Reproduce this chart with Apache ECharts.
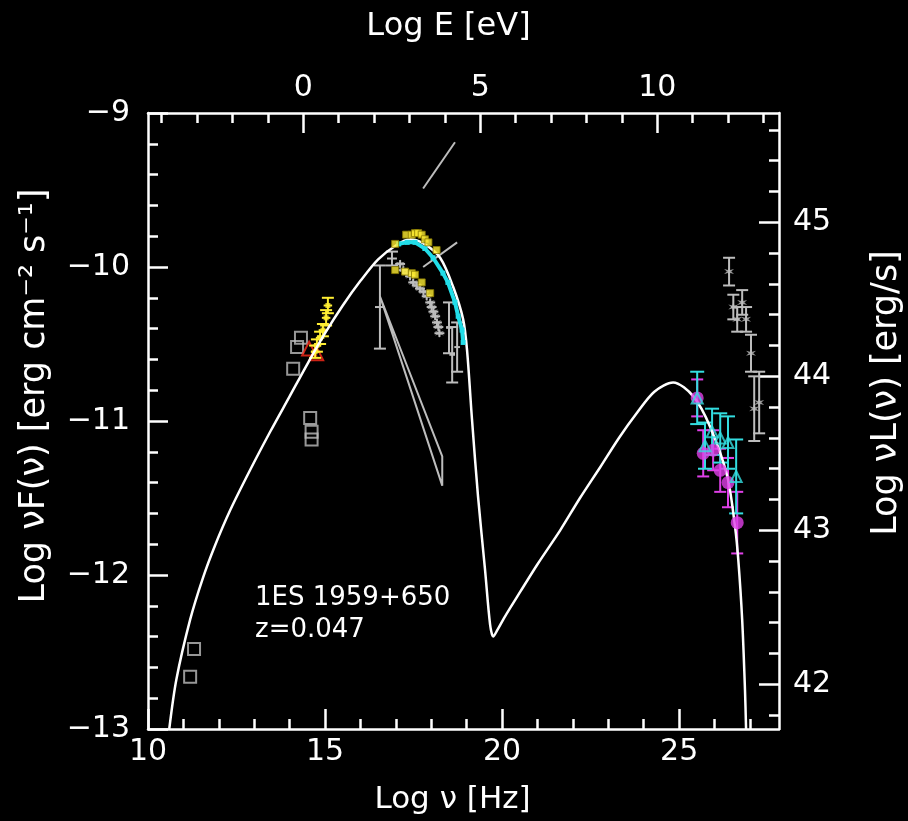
<!DOCTYPE html>
<html>
<head>
<meta charset="utf-8">
<script src="https://cdn.jsdelivr.net/npm/echarts@6/dist/echarts.min.js"></script>
<style>
  html, body { margin: 0; padding: 0; background: #000; }
  #chart { width: 908px; height: 821px; }
</style>
</head>
<body>
<div id="chart"></div>
<script>
// SSC model curve (log nu, log nuFnu)
const curveNu = [10.6, 10.8, 11.19, 11.55, 11.89, 12.32, 12.88, 13.45, 14.0, 14.5, 15.0, 15.5, 16.0, 16.5, 17.0, 17.4, 17.8, 18.25, 18.62, 18.90, 19.01, 19.15, 19.32, 19.52, 19.66, 19.75, 19.86, 20.08, 20.51, 21.0, 21.64, 22.2, 22.77, 23.3, 23.8, 24.3, 24.83, 25.40, 25.88, 26.36, 26.58, 26.67, 26.78, 26.86, 26.89]
const curveF = [-13.0, -12.68, -12.29, -12.02, -11.81, -11.58, -11.32, -11.07, -10.84, -10.63, -10.43, -10.25, -10.09, -9.95, -9.86, -9.82, -9.85, -9.94, -10.13, -10.34, -10.54, -10.99, -11.49, -11.97, -12.32, -12.40, -12.36, -12.27, -12.11, -11.93, -11.71, -11.50, -11.30, -11.11, -10.95, -10.81, -10.75, -10.84, -11.04, -11.36, -11.69, -11.90, -12.29, -12.75, -13.0]

// radio / IR archival (open squares)
const radioNu = [11.19, 11.30, 14.32, 14.21, 14.10, 14.58, 14.62, 14.62]
const radioF = [-12.66, -12.48, -10.46, -10.52, -10.66, -10.98, -11.07, -11.12]

// red open triangles
const redNu = [14.55, 14.75]
const redF = [-10.53, -10.56]

// optical-UV (yellow)
const optNu = [15.08, 15.03, 14.94, 14.86, 14.77, 14.72]
const optF = [-10.25, -10.33, -10.41, -10.46, -10.51, -10.55]
const optErr = [0.05, 0.05, 0.04, 0.04, 0.04, 0.04]

// X-ray yellow squares
const xyNu = [16.98, 17.26, 17.45, 17.54, 17.73, 17.97, 16.98, 17.29, 17.45, 17.54, 17.63, 17.73, 17.82, 17.92, 18.15]
const xyF = [-10.02, -10.03, -10.04, -10.05, -10.10, -10.17, -9.85, -9.79, -9.79, -9.78, -9.78, -9.79, -9.82, -9.84, -9.89]

// X-ray cyan band
const xcNu = [17.08, 17.32, 17.54, 17.82, 18.05, 18.33, 18.47, 18.67, 18.76, 18.87, 18.90]
const xcF = [-9.85, -9.84, -9.84, -9.88, -9.94, -10.04, -10.10, -10.23, -10.32, -10.41, -10.49]

// X-ray gray band
const xgNu = [17.12, 17.21, 17.31, 17.40, 17.49, 17.59, 17.68, 17.78, 17.87, 17.97, 18.01, 18.06, 18.11, 18.16, 18.20, 18.23]
const xgF = [-9.98, -10.02, -10.04, -10.06, -10.10, -10.12, -10.14, -10.16, -10.19, -10.23, -10.26, -10.29, -10.32, -10.36, -10.39, -10.43]

// gray error-bar points in X-rays
const xeNu = [16.55, 16.89, 18.50, 18.59, 18.73]
const xeF = [-10.19, -9.94, -10.36, -10.57, -10.51]
const xeLo = [-10.53, -9.99, -10.56, -10.75, -10.68]
const xeHi = [-9.99, -9.90, -10.23, -10.39, -10.36]
const xeDx = [0.14, 0.14, 0.08, 0.08, 0.08]

// gray bowtie and line segments
const bowNu = [16.55, 18.31, 18.31, 16.61, 16.55]
const bowF = [-10.19, -11.23, -11.42, -10.23, -10.19]
const seg1Nu = [17.77, 18.67]
const seg1F = [-9.49, -9.19]
const seg2Nu = [17.77, 18.73]
const seg2F = [-10.0, -9.84]

// VHE magenta circles
const vmNu = [25.51, 25.68, 25.96, 26.16, 26.38, 26.64]
const vmF = [-10.85, -11.21, -11.19, -11.32, -11.40, -11.66]
const vmErr = [0.12, 0.15, 0.13, 0.14, 0.16, 0.20]

// VHE cyan triangles
const vcNu = [25.51, 25.73, 25.93, 26.16, 26.38, 26.61]
const vcF = [-10.85, -11.16, -11.07, -11.11, -11.14, -11.36]
const vcErr = [0.17, 0.15, 0.15, 0.16, 0.17, 0.24]

// VHE gray stars (high state)
const vgNu = [26.41, 26.53, 26.78, 26.64, 26.89, 27.03, 27.12, 27.26]
const vgF = [-10.03, -10.26, -10.23, -10.34, -10.34, -10.56, -10.92, -10.88]
const vgErr = [0.09, 0.08, 0.08, 0.08, 0.08, 0.12, 0.21, 0.20]

// axes
const nuMin = 10, nuMax = 27.82
const eShift = 14.383          // log E[eV] = log nu - 14.383
const lShift = 54.71           // log nuL = log nuF + 54.71
const bottomMajor = [10, 15, 20, 25]
const topMajor = [0, 5, 10]
const leftMajor = [-13, -12, -11, -10, -9]
const rightMajor = [42, 43, 44, 45]

function minors (lo, hi, step, majors) {
  const out = []
  for (let v = lo; v <= hi + 1e-9; v += step) {
    const r = Math.round(v * 10) / 10
    if (!majors.some(m => Math.abs(m - r) < 1e-6)) out.push(r)
  }
  return out
}
const bottomMinor = minors(11, 27, 1, bottomMajor)
const topMinor = minors(-4, 13, 1, topMajor)
const leftMinor = minors(-12.8, -9.2, 0.2, leftMajor)
const rightMinor = minors(41.8, 45.6, 0.2, rightMajor)

const FONT = 'DejaVu Sans'
const WHITE = '#ffffff'
const GRAY = '#bdbdbd'
const TICK = 30
const minus = v => (v < 0 ? '\u2212' + Math.abs(v) : String(v))

function majorAxis (extra, ticks, labelMargin, formatter, nameSize, namePad) {
  return Object.assign({
    type: 'value',
    splitLine: { show: false },
    axisLine: { show: true, onZero: false, lineStyle: { color: WHITE, width: 2.5 } },
    axisTick: { show: true, inside: true, length: 20, customValues: ticks, lineStyle: { color: WHITE, width: 2.5 } },
    axisLabel: { show: true, color: WHITE, fontFamily: FONT, fontSize: TICK, margin: labelMargin, customValues: ticks, formatter: formatter },
    nameLocation: 'middle',
    nameTextStyle: { color: WHITE, fontFamily: FONT, fontSize: nameSize, padding: namePad }
  }, extra)
}
function minorAxis (extra, ticks) {
  return Object.assign({
    type: 'value',
    splitLine: { show: false },
    axisLine: { show: false, onZero: false },
    axisTick: { show: true, inside: true, length: 10, customValues: ticks, lineStyle: { color: WHITE, width: 2.5 } },
    axisLabel: { show: false }
  }, extra)
}

const pts = (xs, ys) => xs.map((x, i) => [x, ys[i]])

function errorBars (name, xs, los, his, color, cap, dxs) {
  return {
    name: name,
    type: 'custom',
    xAxisIndex: 0,
    yAxisIndex: 0,
    clip: true,
    data: xs.map((x, i) => [x, los[i], his[i], dxs ? dxs[i] : 0]),
    encode: { x: 0, y: [1, 2] },
    renderItem (params, api) {
      const x = api.value(0)
      const a = api.coord([x, api.value(1)])
      const b = api.coord([x, api.value(2)])
      const st = { stroke: color, lineWidth: 2 }
      const kids = [
        { type: 'line', shape: { x1: a[0], y1: a[1], x2: b[0], y2: b[1] }, style: st },
        { type: 'line', shape: { x1: a[0] - cap, y1: a[1], x2: a[0] + cap, y2: a[1] }, style: st },
        { type: 'line', shape: { x1: b[0] - cap, y1: b[1], x2: b[0] + cap, y2: b[1] }, style: st }
      ]
      const dx = api.value(3)
      if (dx > 0) {
        const yc = (api.value(1) + api.value(2)) / 2
        const l = api.coord([x - dx, yc])
        const r = api.coord([x + dx, yc])
        kids.push({ type: 'line', shape: { x1: l[0], y1: l[1], x2: r[0], y2: r[1] }, style: st })
      }
      return { type: 'group', children: kids }
    },
    z: 3
  }
}

const chart = echarts.init(document.getElementById('chart'))
const starPath = 'path://M0,-10 L2,-3 L9,-5 L4,0 L9,5 L2,3 L0,10 L-2,3 L-9,5 L-4,0 L-9,-5 L-2,-3 Z'

const option = {
  backgroundColor: '#000000',
  animation: false,
  grid: { left: 148, right: 129, top: 113, bottom: 92, containLabel: false, outerBoundsMode: 'none' },
  xAxis: [
    majorAxis({ position: 'bottom', min: nuMin, max: nuMax, name: 'Log \u03bd [Hz]', nameGap: 55 }, bottomMajor, 8, null, 31, [0, 22, 0, 0]),
    minorAxis({ position: 'bottom', min: nuMin, max: nuMax }, bottomMinor),
    majorAxis({ position: 'top', min: nuMin - eShift, max: nuMax - eShift, name: 'Log E [eV]', nameGap: 70 }, topMajor, 10, null, 32, [0, 30, 0, 0]),
    minorAxis({ position: 'top', min: nuMin - eShift, max: nuMax - eShift }, topMinor)
  ],
  yAxis: [
    majorAxis({
      position: 'left', min: -13, max: -9, nameRotate: 90, nameGap: 96,
      name: 'Log \u03bdF(\u03bd) [erg cm\u207b\u00b2 s\u207b\u00b9]'
    }, leftMajor, 18, minus, 35, [0, 0, 0, 50]),
    minorAxis({ position: 'left', min: -13, max: -9 }, leftMinor),
    majorAxis({
      position: 'right', min: -13 + lShift, max: -9 + lShift, nameRotate: 90, nameGap: 90,
      name: 'Log \u03bdL(\u03bd) [erg/s]'
    }, rightMajor, 14, null, 35, [0, 0, 0, 56]),
    minorAxis({ position: 'right', min: -13 + lShift, max: -9 + lShift }, rightMinor)
  ],
  graphic: [
    { type: 'text', left: 255, top: 585, style: { text: '1ES 1959+650', fill: WHITE, font: '26px "DejaVu Sans"' } },
    { type: 'text', left: 255, top: 617, style: { text: 'z=0.047', fill: WHITE, font: '26px "DejaVu Sans"' } }
  ],
  series: [
    {
      name: 'model', type: 'line', data: pts(curveNu, curveF),
      showSymbol: false, smooth: 0.3,
      lineStyle: { color: WHITE, width: 2.5 }, z: 4
    },
    { name: 'bowtie', type: 'line', data: pts(bowNu, bowF), showSymbol: false, lineStyle: { color: GRAY, width: 2 } },
    { name: 'seg1', type: 'line', data: pts(seg1Nu, seg1F), showSymbol: false, lineStyle: { color: GRAY, width: 2 } },
    { name: 'seg2', type: 'line', data: pts(seg2Nu, seg2F), showSymbol: false, lineStyle: { color: GRAY, width: 2 } },
    {
      name: 'radio', type: 'scatter', data: pts(radioNu, radioF), symbol: 'rect', symbolSize: 12,
      itemStyle: { color: 'rgba(0,0,0,0)', borderColor: GRAY, borderWidth: 2 }
    },
    {
      name: 'red', type: 'scatter', data: pts(redNu, redF), symbol: 'triangle', symbolSize: 14,
      itemStyle: { color: 'rgba(0,0,0,0)', borderColor: '#ff2a1a', borderWidth: 2 }
    },
    errorBars('optErr', optNu, optNu.map((x, i) => optF[i] - optErr[i]), optNu.map((x, i) => optF[i] + optErr[i]), '#ffee33', 6, optNu.map(() => 0.12)),
    { name: 'opt', type: 'scatter', data: pts(optNu, optF), symbol: 'rect', symbolSize: 5, itemStyle: { color: '#ffee33' } },
    errorBars('xgErr', xgNu, xgNu.map((x, i) => xgF[i] - 0.025), xgNu.map((x, i) => xgF[i] + 0.025), GRAY, 0, xgNu.map(() => 0.14)),
    { name: 'xg', type: 'scatter', data: pts(xgNu, xgF), symbol: starPath, symbolSize: 9, itemStyle: { color: GRAY } },
    errorBars('xeErr', xeNu, xeLo, xeHi, GRAY, 6, xeDx),
    {
      name: 'xc', type: 'line', data: pts(xcNu, xcF), symbol: 'rect', symbolSize: 5,
      lineStyle: { color: '#22dde8', width: 4 }, itemStyle: { color: '#22dde8' }, z: 5
    },
    {
      name: 'xy', type: 'scatter', data: pts(xyNu, xyF), symbol: 'rect', symbolSize: 7,
      itemStyle: { color: '#ffee33', borderColor: '#8a7a00', borderWidth: 1 }, z: 6
    },
    errorBars('vgErr', vgNu, vgNu.map((x, i) => vgF[i] - vgErr[i]), vgNu.map((x, i) => vgF[i] + vgErr[i]), GRAY, 6),
    { name: 'vg', type: 'scatter', data: pts(vgNu, vgF), symbol: starPath, symbolSize: 10, itemStyle: { color: GRAY } },
    errorBars('vmErr', vmNu, vmNu.map((x, i) => vmF[i] - vmErr[i]), vmNu.map((x, i) => vmF[i] + vmErr[i]), '#e040e8', 6),
    { name: 'vm', type: 'scatter', data: pts(vmNu, vmF), symbol: 'circle', symbolSize: 13, itemStyle: { color: '#e040e8' }, z: 5 },
    errorBars('vcErr', vcNu, vcNu.map((x, i) => vcF[i] - vcErr[i]), vcNu.map((x, i) => vcF[i] + vcErr[i]), '#33dde0', 7),
    {
      name: 'vc', type: 'scatter', data: pts(vcNu, vcF), symbol: 'triangle', symbolSize: 11,
      itemStyle: { color: 'rgba(0,0,0,0)', borderColor: '#33dde0', borderWidth: 2 }, z: 6
    }
  ]
}
chart.setOption(option)
</script>
</body>
</html>
